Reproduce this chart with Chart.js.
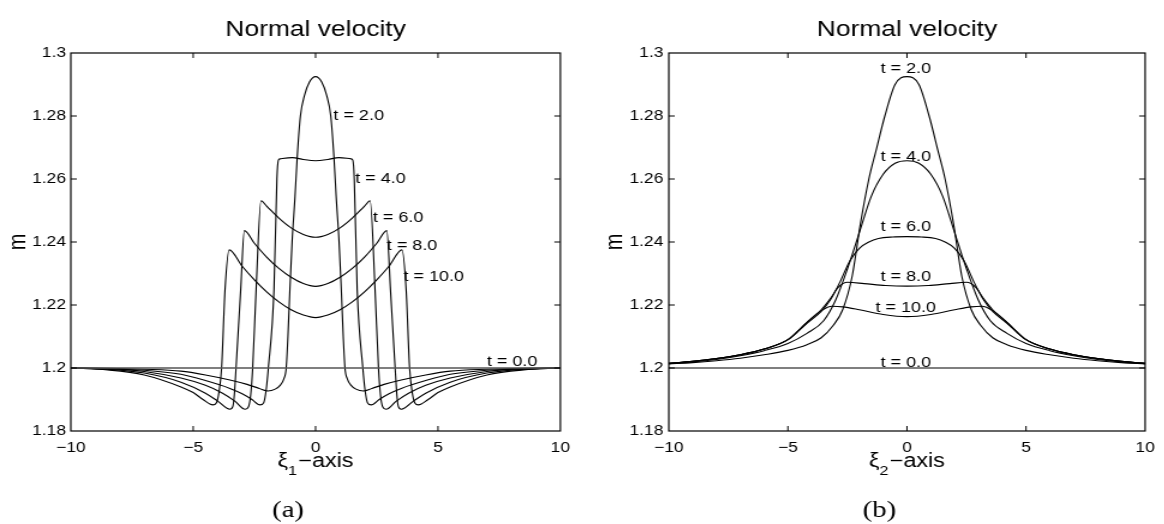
<!DOCTYPE html>
<html>
<head>
<meta charset="utf-8">
<script src="https://cdn.jsdelivr.net/npm/chart.js@4.4.1/dist/chart.umd.min.js"></script>
<style>
  body { margin: 0; background: #fff; width: 1164px; height: 524px; overflow: hidden; position: relative; }
  .panel { position: absolute; top: 0; height: 524px; transform-origin: 0 0; transform: scaleX(1.2); }
</style>
</head>
<body>
<div class="panel" style="left:0;width:483px"><canvas id="chartA"></canvas></div>
<div class="panel" style="left:580px;width:487px"><canvas id="chartB"></canvas></div>
<script>
// axes
const tickXs = [-10, -5, 0, 5, 10];
const tickYs = [1.18, 1.2, 1.22, 1.24, 1.26, 1.28, 1.3];
const timeNames = ['t = 0.0', 't = 2.0', 't = 4.0', 't = 6.0', 't = 8.0', 't = 10.0'];

// initial state, both panels
const baseX = [-10, 10];
const baseY = [1.2, 1.2];

// panel (a): profiles along xi_1
const a2X = [-10, -8.5, -7, -5.5, -4.5, -3.5, -2.8, -2.3, -1.95, -1.65, -1.45, -1.3, -1.2, -1.13, -1.05, -0.96, -0.84, -0.75, -0.62, -0.45, -0.25, 0, 0.25, 0.45, 0.62, 0.75, 0.84, 0.96, 1.05, 1.13, 1.2, 1.3, 1.45, 1.65, 1.95, 2.3, 2.8, 3.5, 4.5, 5.5, 7, 8.5, 10];
const a2Y = [1.2, 1.1999, 1.1996, 1.199, 1.1978, 1.1962, 1.1948, 1.1935, 1.1927, 1.1933, 1.1945, 1.1965, 1.2, 1.21, 1.225, 1.24, 1.2545, 1.267, 1.28, 1.2866, 1.2908, 1.2925, 1.2908, 1.2866, 1.28, 1.267, 1.2545, 1.24, 1.225, 1.21, 1.2, 1.1965, 1.1945, 1.1933, 1.1927, 1.1935, 1.1948, 1.1962, 1.1978, 1.199, 1.1996, 1.1999, 1.2];

const a4X = [-10, -8.5, -7, -5.5, -4.5, -3.5, -3, -2.6, -2.27, -2.12, -2.02, -1.93, -1.7, -1.58, -1.52, -1.45, -0.95, -0.5, 0, 0.5, 0.95, 1.45, 1.52, 1.58, 1.7, 1.93, 2.02, 2.12, 2.27, 2.6, 3, 3.5, 4.5, 5.5, 7, 8.5, 10];
const a4Y = [1.2, 1.1997, 1.1993, 1.198, 1.196, 1.1935, 1.1918, 1.19, 1.1883, 1.189, 1.193, 1.2, 1.2248, 1.26, 1.266, 1.2664, 1.2668, 1.2662, 1.2658, 1.2662, 1.2668, 1.2664, 1.266, 1.26, 1.2248, 1.2, 1.193, 1.189, 1.1883, 1.19, 1.1918, 1.1935, 1.196, 1.198, 1.1993, 1.1997, 1.2];

const a6X = [-10, -8.5, -7, -5.5, -4.5, -3.8, -3.3, -2.88, -2.74, -2.65, -2.57, -2.43, -2.23, -2, -1.5, -1, -0.5, 0, 0.5, 1, 1.5, 2, 2.23, 2.43, 2.57, 2.65, 2.74, 2.88, 3.3, 3.8, 4.5, 5.5, 7, 8.5, 10];
const a6Y = [1.2, 1.1998, 1.1989, 1.1968, 1.1945, 1.192, 1.1895, 1.1869, 1.1877, 1.1915, 1.2, 1.2248, 1.2531, 1.2514, 1.2476, 1.2445, 1.2424, 1.2415, 1.2424, 1.2445, 1.2476, 1.2514, 1.2531, 1.2248, 1.2, 1.1915, 1.1877, 1.1869, 1.1895, 1.192, 1.1945, 1.1968, 1.1989, 1.1998, 1.2];

const a8X = [-10, -8.5, -7, -5.5, -4.5, -4, -3.5, -3.38, -3.32, -3.25, -3.06, -2.91, -2.5, -2, -1.5, -1, -0.5, 0, 0.5, 1, 1.5, 2, 2.5, 2.91, 3.06, 3.25, 3.32, 3.38, 3.5, 4, 4.5, 5.5, 7, 8.5, 10];
const a8Y = [1.2, 1.1996, 1.1984, 1.1955, 1.192, 1.1895, 1.1869, 1.1878, 1.1915, 1.2, 1.2248, 1.2436, 1.2396, 1.2352, 1.2316, 1.2288, 1.2268, 1.2259, 1.2268, 1.2288, 1.2316, 1.2352, 1.2396, 1.2436, 1.2248, 1.2, 1.1915, 1.1878, 1.1869, 1.1895, 1.192, 1.1955, 1.1984, 1.1996, 1.2];

const a10X = [-10, -8.5, -7, -5.5, -5, -4.6, -4.2, -4.05, -3.95, -3.84, -3.7, -3.53, -3, -2.5, -2, -1.5, -1, -0.5, 0, 0.5, 1, 1.5, 2, 2.5, 3, 3.53, 3.7, 3.84, 3.95, 4.05, 4.2, 4.6, 5, 5.5, 7, 8.5, 10];
const a10Y = [1.2, 1.1994, 1.1978, 1.194, 1.1922, 1.19, 1.1883, 1.189, 1.1922, 1.2, 1.2248, 1.2375, 1.2323, 1.228, 1.2242, 1.221, 1.2185, 1.2168, 1.216, 1.2168, 1.2185, 1.221, 1.2242, 1.228, 1.2323, 1.2375, 1.2248, 1.2, 1.1922, 1.189, 1.1883, 1.19, 1.1922, 1.194, 1.1978, 1.1994, 1.2];

// panel (b): profiles along xi_2
const b2X = [-10, -9, -8, -7, -6, -5, -4.2, -3.6, -3.1, -2.7, -2.3, -1.95, -1.6, -1.3, -0.93, -0.5, 0, 0.5, 0.93, 1.3, 1.6, 1.95, 2.3, 2.7, 3.1, 3.6, 4.2, 5, 6, 7, 8, 9, 10];
const b2Y = [1.2013, 1.2017, 1.2023, 1.2031, 1.2042, 1.2056, 1.2074, 1.2096, 1.2135, 1.2185, 1.2292, 1.246, 1.26, 1.269, 1.28, 1.29, 1.2925, 1.29, 1.28, 1.269, 1.26, 1.246, 1.2292, 1.2185, 1.2135, 1.2096, 1.2074, 1.2056, 1.2042, 1.2031, 1.2023, 1.2017, 1.2013];

const b4X = [-10, -9, -8, -7, -6, -5, -4.2, -3.5, -3, -2.5, -2, -1.5, -1, -0.5, 0, 0.5, 1, 1.5, 2, 2.5, 3, 3.5, 4.2, 5, 6, 7, 8, 9, 10];
const b4Y = [1.2014, 1.2019, 1.2027, 1.2039, 1.2055, 1.2078, 1.211, 1.215, 1.2215, 1.2315, 1.243, 1.2545, 1.2615, 1.265, 1.2658, 1.265, 1.2615, 1.2545, 1.243, 1.2315, 1.2215, 1.215, 1.211, 1.2078, 1.2055, 1.2039, 1.2027, 1.2019, 1.2014];

const b6X = [-10, -9, -8, -7, -6, -5, -4.2, -3.6, -3.2, -2.8, -2.4, -2, -1.6, -1.2, -0.6, 0, 0.6, 1.2, 1.6, 2, 2.4, 2.8, 3.2, 3.6, 4.2, 5, 6, 7, 8, 9, 10];
const b6Y = [1.2015, 1.2021, 1.203, 1.2042, 1.206, 1.209, 1.2142, 1.218, 1.2218, 1.2275, 1.234, 1.238, 1.24, 1.2411, 1.2416, 1.2417, 1.2416, 1.2411, 1.24, 1.238, 1.234, 1.2275, 1.2218, 1.218, 1.2142, 1.209, 1.206, 1.2042, 1.203, 1.2021, 1.2015];

const b8X = [-10, -9, -8, -7, -6, -5, -4.2, -3.6, -3.2, -2.9, -2.5, -1.8, -0.9, 0, 0.9, 1.8, 2.5, 2.9, 3.2, 3.6, 4.2, 5, 6, 7, 8, 9, 10];
const b8Y = [1.2015, 1.2021, 1.203, 1.2042, 1.206, 1.209, 1.2145, 1.2185, 1.2222, 1.2255, 1.2272, 1.2268, 1.2262, 1.226, 1.2262, 1.2268, 1.2272, 1.2255, 1.2222, 1.2185, 1.2145, 1.209, 1.206, 1.2042, 1.203, 1.2021, 1.2015];

const b10X = [-10, -9, -8, -7, -6, -5, -4.2, -3.6, -3.15, -2.7, -2, -1, 0, 1, 2, 2.7, 3.15, 3.6, 4.2, 5, 6, 7, 8, 9, 10];
const b10Y = [1.2015, 1.2021, 1.203, 1.2042, 1.206, 1.209, 1.2145, 1.2182, 1.2196, 1.2194, 1.2185, 1.217, 1.2163, 1.217, 1.2185, 1.2194, 1.2196, 1.2182, 1.2145, 1.209, 1.206, 1.2042, 1.203, 1.2021, 1.2015];

const SANS = "'Liberation Sans', Arial, Helvetica, sans-serif";
Chart.defaults.font.family = SANS;
Chart.defaults.color = '#000';

function pts(xs, ys) {
    return xs.map((x, i) => ({ x: x, y: ys[i] }));
}

function curve(xs, ys) {
    return {
        data: pts(xs, ys),
        borderColor: '#000',
        borderWidth: 1.1,
        pointRadius: 0,
        fill: false,
        cubicInterpolationMode: 'monotone'
    };
}

function baseLine() {
    return {
        data: pts(baseX, baseY),
        borderColor: '#555',
        borderWidth: 1.6,
        pointRadius: 0,
        fill: false
    };
}

function fmtX(v) {
    return v < 0 ? '\u2212' + (-v) : String(v);
}

// box, inward ticks, titles and the time labels
const framePlugin = {
    id: 'frame',
    afterDraw(chart, args, o) {
        const { ctx, chartArea: a } = chart;
        const sx = chart.scales.x, sy = chart.scales.y;
        ctx.save();
        ctx.strokeStyle = '#000';
        ctx.lineWidth = 1.2;
        ctx.strokeRect(a.left, a.top, a.right - a.left, a.bottom - a.top);

        ctx.lineWidth = 1;
        ctx.beginPath();
        tickXs.slice(1, -1).forEach(v => {
            const px = sx.getPixelForValue(v);
            ctx.moveTo(px, a.bottom); ctx.lineTo(px, a.bottom - 5);
            ctx.moveTo(px, a.top); ctx.lineTo(px, a.top + 5);
        });
        tickYs.slice(1, -1).forEach(v => {
            const py = sy.getPixelForValue(v);
            ctx.moveTo(a.left, py); ctx.lineTo(a.left + 5, py);
            ctx.moveTo(a.right, py); ctx.lineTo(a.right - 5, py);
        });
        ctx.stroke();

        ctx.fillStyle = '#000';
        ctx.font = '15px ' + SANS;
        ctx.textBaseline = 'middle';
        ctx.textAlign = o.labelAlign;
        o.labels.forEach(l => {
            ctx.fillText(timeNames[l.i], sx.getPixelForValue(l.x), sy.getPixelForValue(l.y));
        });

        const cx = (a.left + a.right) / 2;
        ctx.textAlign = 'center';
        ctx.textBaseline = 'alphabetic';
        ctx.font = '22px ' + SANS;
        ctx.fillText('Normal velocity', cx, 36);

        // xi with subscript, then "-axis"
        const big = '19.5px ' + SANS, small = '13.5px ' + SANS;
        ctx.font = big;
        const w1 = ctx.measureText('\u03be').width;
        const w3 = ctx.measureText('\u2212axis').width;
        ctx.font = small;
        const w2 = ctx.measureText(o.sub).width + 1;
        let x0 = cx - (w1 + w2 + w3) / 2;
        ctx.textAlign = 'left';
        ctx.font = big;
        ctx.fillText('\u03be', x0, 467);
        ctx.font = small;
        ctx.fillText(o.sub, x0 + w1, 475);
        ctx.font = big;
        ctx.fillText('\u2212axis', x0 + w1 + w2, 467);

        ctx.textAlign = 'center';
        ctx.font = "24px 'Liberation Serif', 'Times New Roman', serif";
        ctx.fillText(o.caption, cx - 23, 517);
        ctx.restore();
    }
};

function makeChart(id, datasets, cfg) {
    return new Chart(document.getElementById(id), {
        type: 'line',
        data: { datasets: datasets },
        plugins: [framePlugin],
        options: {
            responsive: true,
            maintainAspectRatio: false,
            animation: false,
            events: [],
            layout: { autoPadding: false, padding: { left: 0, right: cfg.padRight, top: 53, bottom: 0 } },
            plugins: {
                legend: { display: false },
                tooltip: { enabled: false },
                frame: { labels: cfg.labels, labelAlign: cfg.labelAlign, sub: cfg.sub, caption: cfg.caption }
            },
            scales: {
                x: {
                    type: 'linear',
                    min: -10,
                    max: 10,
                    grid: { display: false, drawTicks: false },
                    border: { display: false },
                    afterBuildTicks: s => { s.ticks = tickXs.map(v => ({ value: v })); },
                    afterFit: s => { s.height = 93; },
                    ticks: {
                        padding: 8,
                        autoSkip: false,
                        maxRotation: 0,
                        font: { size: 14.5 },
                        callback: v => fmtX(v)
                    }
                },
                y: {
                    type: 'linear',
                    min: 1.18,
                    max: 1.3,
                    grid: { display: false, drawTicks: false },
                    border: { display: false },
                    afterBuildTicks: s => { s.ticks = tickYs.map(v => ({ value: v })); },
                    afterFit: s => { s.width = cfg.plotLeft; },
                    ticks: {
                        padding: cfg.yPad,
                        autoSkip: false,
                        font: { size: 14.5 },
                        callback: v => String(v)
                    },
                    title: {
                        display: true,
                        text: 'm',
                        font: { size: 20 },
                        padding: { top: cfg.mPad, bottom: 0 }
                    }
                }
            }
        }
    });
}

makeChart('chartA', [
    baseLine(),
    curve(a2X, a2Y),
    curve(a4X, a4Y),
    curve(a6X, a6Y),
    curve(a8X, a8Y),
    curve(a10X, a10Y)
], {
    plotLeft: 59, padRight: 16, yPad: 4, mPad: 3,
    labelAlign: 'left', sub: '1', caption: '(a)',
    labels: [
        { i: 1, x: 0.73, y: 1.28 },
        { i: 2, x: 1.62, y: 1.2602 },
        { i: 3, x: 2.34, y: 1.2478 },
        { i: 4, x: 2.91, y: 1.2387 },
        { i: 5, x: 3.59, y: 1.229 },
        { i: 0, x: 7.0, y: 1.2019 }
    ]
});

makeChart('chartB', [
    baseLine(),
    curve(b2X, b2Y),
    curve(b4X, b4Y),
    curve(b6X, b6Y),
    curve(b8X, b8Y),
    curve(b10X, b10Y)
], {
    plotLeft: 74, padRight: 7, yPad: 4.5, mPad: 17,
    labelAlign: 'center', sub: '2', caption: '(b)',
    labels: [
        { i: 1, x: -0.05, y: 1.2951 },
        { i: 2, x: -0.05, y: 1.2671 },
        { i: 3, x: -0.05, y: 1.2449 },
        { i: 4, x: -0.05, y: 1.2288 },
        { i: 5, x: -0.05, y: 1.219 },
        { i: 0, x: -0.05, y: 1.2017 }
    ]
});
</script>
</body>
</html>
